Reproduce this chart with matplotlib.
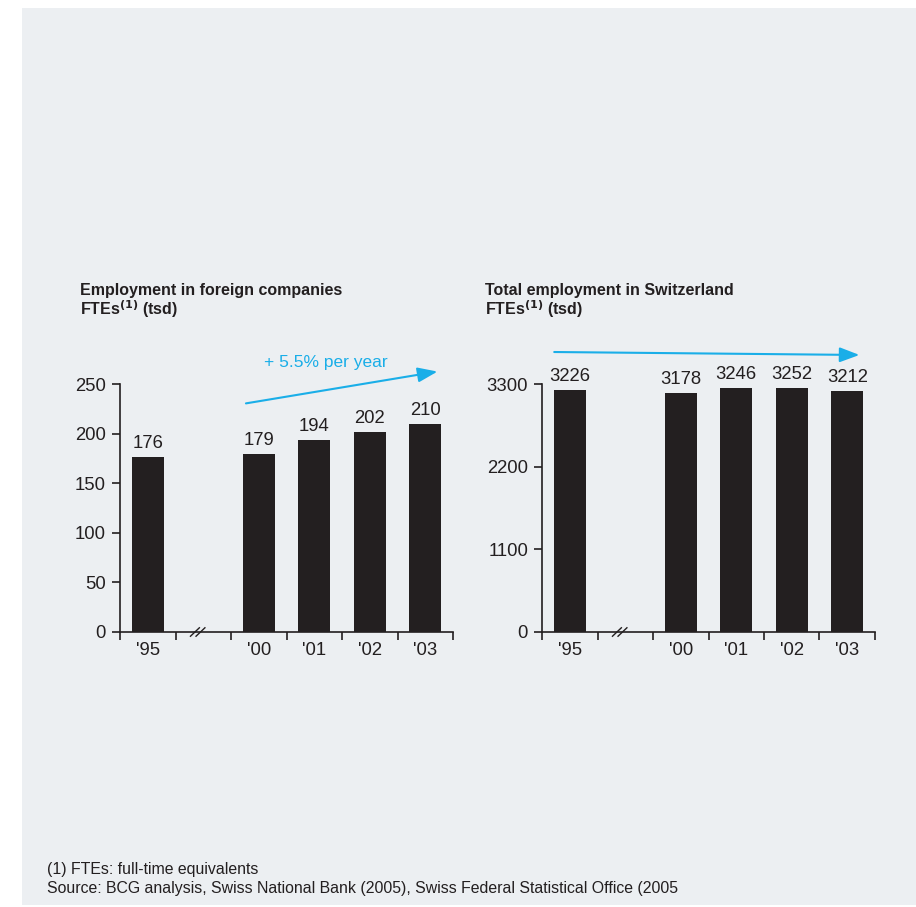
import matplotlib.pyplot as plt
from matplotlib.patches import Rectangle

# data
years = ["'95", "'00", "'01", "'02", "'03"]
foreign = [176, 179, 194, 202, 210]
total = [3226, 3178, 3246, 3252, 3212]
slots = [0.5, 2.5, 3.5, 4.5, 5.5]

ink = '#231F20'
blue = '#1AAEE8'
bg = '#ECEFF2'

plt.rcParams['font.family'] = ['Liberation Sans', 'DejaVu Sans']

fig = plt.figure(figsize=(9.16, 9.07), dpi=100)
fig.patch.set_facecolor('white')
fig.add_artist(Rectangle((22 / 916, 0.002), 1, (905 - 8) / 907, transform=fig.transFigure,
                         facecolor=bg, edgecolor='none', zorder=-10))

W, H = 916, 907
fs = 13.3


def make_axes(x0, x1, ytop, ybot=632):
    return fig.add_axes([x0 / W, 1 - ybot / H, (x1 - x0) / W, (ybot - ytop) / H])


def draw_panel(ax, vals, ymax, yticks):
    ax.set_facecolor('none')
    ax.bar(slots, vals, width=0.58, color=ink, zorder=3)
    ax.set_xlim(0, 6)
    ax.set_ylim(0, ymax)
    ax.set_yticks(yticks)
    ax.set_xticks(range(7))
    ax.set_xticklabels([])
    ax.set_xticks(slots, minor=True)
    ax.set_xticklabels(years, minor=True)
    ax.tick_params(axis='x', which='minor', length=0, pad=7, labelsize=fs, labelcolor=ink)
    ax.tick_params(axis='x', which='major', length=6, width=1.2, color=ink, direction='out')
    ax.tick_params(axis='y', length=6, width=1.2, color=ink, labelsize=fs, labelcolor=ink, pad=4)
    for s in ['top', 'right']:
        ax.spines[s].set_visible(False)
    for s in ['left', 'bottom']:
        ax.spines[s].set_color(ink)
        ax.spines[s].set_linewidth(1.2)
    for x, v in zip(slots, vals):
        ax.text(x, v + ymax * 0.02, str(v), ha='center', va='bottom', fontsize=fs, color=ink)
    # axis break marker
    for dx in (-0.05, 0.05):
        ax.plot([1.4 + dx - 0.08, 1.4 + dx + 0.08], [-ymax * 0.017, ymax * 0.017],
                color=ink, lw=1, clip_on=False, zorder=5)


ax1 = make_axes(120, 453, 384)
draw_panel(ax1, foreign, 250, [0, 50, 100, 150, 200, 250])
fig.text(80 / W, 1 - 295 / H, 'Employment in foreign companies', fontsize=11.5, fontweight='bold', color=ink)
fig.text(80 / W, 1 - 315 / H, r'FTEs$^{\mathbf{(1)}}$ (tsd)', fontsize=11.5, fontweight='bold', color=ink)
ax1.annotate('', xy=(5.77, 263), xytext=(2.22, 230),
             arrowprops=dict(arrowstyle='-|>,head_length=1.2,head_width=0.45', color=blue, lw=1.5),
             annotation_clip=False)
ax1.text(3.71, 272, '+ 5.5% per year', color=blue, fontsize=12.5, ha='center', va='center')

ax2 = make_axes(542, 875, 384)
draw_panel(ax2, total, 3300, [0, 1100, 2200, 3300])
fig.text(485 / W, 1 - 295 / H, 'Total employment in Switzerland', fontsize=11.5, fontweight='bold', color=ink)
fig.text(485 / W, 1 - 315 / H, r'FTEs$^{\mathbf{(1)}}$ (tsd)', fontsize=11.5, fontweight='bold', color=ink)
ax2.annotate('', xy=(5.77, 3686), xytext=(0.17, 3726),
             arrowprops=dict(arrowstyle='-|>,head_length=1.2,head_width=0.45', color=blue, lw=1.5),
             annotation_clip=False)

fig.text(47 / W, 1 - 874 / H, '(1) FTEs: full-time equivalents', fontsize=11.4, color=ink)
fig.text(47 / W, 1 - 893 / H,
         'Source: BCG analysis, Swiss National Bank (2005), Swiss Federal Statistical Office (2005',
         fontsize=11.4, color=ink)

plt.savefig('out.png', dpi=100, facecolor=fig.get_facecolor())
